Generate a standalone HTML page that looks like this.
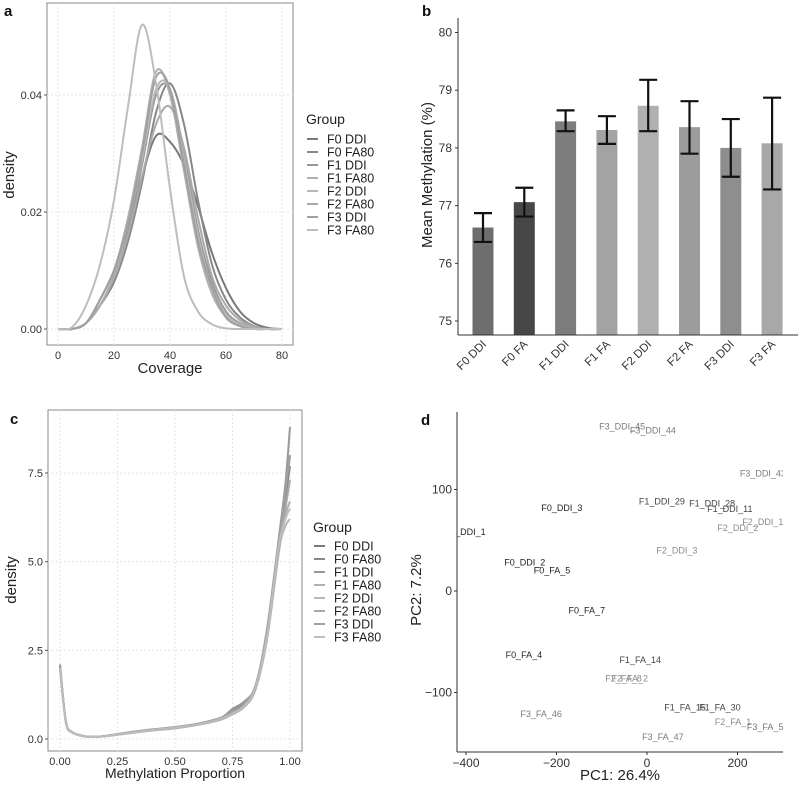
<!DOCTYPE html>
<html><head><meta charset="utf-8"><style>
body{margin:0;background:#fff}
svg{display:block;font-family:"Liberation Sans",sans-serif}
</style></head><body>
<svg id="s" width="800" height="786" viewBox="0 0 800 786"></svg>
<script>
// ---- Panel a data ----
const covX=[0,5,10,15,20,25,30,35,40,45,50,55,60,65,70,75,80];
const groupNames=["F0 DDI","F0 FA80","F1 DDI","F1 FA80","F2 DDI","F2 FA80","F3 DDI","F3 FA80"];
const covF0DDI=[0,0,0.001,0.005,0.010,0.017,0.026,0.033,0.032,0.028,0.021,0.013,0.007,0.003,0.001,0.0002,0];
const covF0FA=[0,0,0.001,0.004,0.008,0.015,0.025,0.037,0.042,0.035,0.022,0.011,0.005,0.002,0.0005,0,0];
const covF1DDI=[0,0,0.001,0.004,0.009,0.017,0.028,0.040,0.041,0.030,0.017,0.008,0.003,0.001,0.0002,0,0];
const covF1FA=[0,0,0.001,0.005,0.010,0.019,0.031,0.044,0.040,0.027,0.014,0.006,0.002,0.0005,0,0,0];
const covF2DDI=[0,0,0.001,0.004,0.009,0.018,0.029,0.041,0.041,0.029,0.016,0.007,0.0025,0.0008,0.0002,0,0];
const covF2FA=[0,0,0.001,0.004,0.009,0.016,0.026,0.035,0.038,0.031,0.019,0.009,0.004,0.0015,0.0004,0,0];
const covF3DDI=[0,0,0.001,0.005,0.010,0.018,0.030,0.043,0.041,0.028,0.015,0.007,0.002,0.0005,0,0,0];
const covF3FA=[0,0.0003,0.004,0.011,0.022,0.038,0.052,0.042,0.024,0.009,0.003,0.0008,0.0001,0,0,0,0];
const covTicksX=[0,20,40,60,80];
const covTicksY=[0,0.02,0.04];
// ---- Panel b data ----
const barCats=["F0 DDI","F0 FA","F1 DDI","F1 FA","F2 DDI","F2 FA","F3 DDI","F3 FA"];
const barMeans=[76.62,77.06,78.46,78.31,78.73,78.36,78.0,78.08];
const barLo=[76.37,76.81,78.29,78.07,78.29,77.9,77.5,77.28];
const barHi=[76.87,77.31,78.65,78.55,79.18,78.81,78.5,78.87];
const barTicks=[75,76,77,78,79,80];
// ---- Panel c data ----
const propX=[0,0.025,0.05,0.1,0.15,0.2,0.3,0.4,0.5,0.6,0.7,0.75,0.8,0.85,0.9,0.95,0.98,1.0];
const propF0DDI=[2.1,0.5,0.2,0.08,0.06,0.08,0.18,0.26,0.33,0.42,0.58,0.8,1.0,1.5,3.0,5.5,7.0,8.0];
const propF0FA=[2.0,0.5,0.2,0.08,0.06,0.08,0.17,0.25,0.32,0.41,0.57,0.75,0.95,1.45,2.9,5.4,6.8,7.7];
const propF1DDI=[2.05,0.5,0.2,0.08,0.06,0.09,0.19,0.27,0.34,0.43,0.6,0.85,1.05,1.5,3.1,5.6,7.2,8.8];
const propF1FA=[2.0,0.48,0.19,0.08,0.06,0.08,0.17,0.24,0.31,0.4,0.55,0.7,0.9,1.4,2.8,5.2,6.3,6.7];
const propF2DDI=[2.0,0.5,0.2,0.08,0.06,0.08,0.18,0.26,0.33,0.42,0.58,0.75,0.95,1.5,3.0,5.3,6.0,6.2];
const propF2FA=[2.0,0.5,0.2,0.08,0.06,0.08,0.16,0.24,0.3,0.4,0.55,0.7,0.9,1.4,2.9,5.3,6.5,7.3];
const propF3DDI=[2.1,0.52,0.21,0.09,0.06,0.09,0.18,0.26,0.33,0.43,0.6,0.78,0.98,1.5,3.0,5.5,7.0,8.0];
const propF3FA=[2.0,0.49,0.2,0.08,0.06,0.08,0.17,0.25,0.32,0.41,0.57,0.72,0.92,1.45,2.9,5.4,6.2,6.5];
const propTicksX=[0,0.25,0.5,0.75,1.0];
const propTicksY=[0,2.5,5.0,7.5];
// ---- Panel d data ----
const pcaLabels=["F3_DDI_45","F3_DDI_44","F3_DDI_43","F1_DDI_29","F1_DDI_28","F1_DDI_11","F2_DDI_1","F2_DDI_2","F2_DDI_3","F0_DDI_3","F0_DDI_1","F0_DDI_2","F0_FA_5","F0_FA_7","F0_FA_4","F1_FA_14","F2_FA_8","F2_FA_2","F1_FA_15","F1_FA_30","F2_FA_1","F3_FA_5","F3_FA_46","F3_FA_47"];
const pcaX=[-55,13,256,33,144,183,256,201,66,-188,-402,-270,-210,-133,-272,-15,-52,-38,84,161,190,261,-234,35];
const pcaY=[162,158,116,88,86,81,68,62,40,82,58,28,20,-19,-63,-68,-86,-86,-115,-115,-129,-134,-121,-144];
const pcaTicksX=[-400,-200,0,200];
const pcaTicksY=[-100,0,100];

const NS="http://www.w3.org/2000/svg";
const svg=document.getElementById('s');
function mk(tag,attrs,parent,text){const e=document.createElementNS(NS,tag);for(const k in attrs)e.setAttribute(k,attrs[k]);if(text!==undefined)e.textContent=text;(parent||svg).appendChild(e);return e;}
function smooth(pts){let d="M"+pts[0][0]+","+pts[0][1];for(let i=0;i<pts.length-1;i++){const p0=pts[Math.max(0,i-1)],p1=pts[i],p2=pts[i+1],p3=pts[Math.min(pts.length-1,i+2)];const c1x=p1[0]+(p2[0]-p0[0])/6,c1y=p1[1]+(p2[1]-p0[1])/6,c2x=p2[0]-(p3[0]-p1[0])/6,c2y=p2[1]-(p3[1]-p1[1])/6;d+=` C${c1x},${c1y} ${c2x},${c2y} ${p2[0]},${p2[1]}`;}return d;}
const lineCols=["#7a7a7a","#888","#999","#b0b0b0","#b8b8b8","#aaa","#a0a0a0","#bdbdbd"];

function panelLabel(t,x,y){const e=mk('text',{x:x,y:y,'font-size':15,'font-weight':'bold',fill:'#111'},svg,t);}

// ===== Panel a =====
(function(){
const g=mk('g',{});
const L=47,R=293,T=3,B=345;
const xs=v=>58+(v/80)*224, ys=v=>329-(v/0.04)*234;
mk('rect',{x:L,y:T,width:R-L,height:B-T,fill:'#fff',stroke:'#888','stroke-width':1},g);
covTicksX.forEach(v=>{mk('line',{x1:xs(v),x2:xs(v),y1:T,y2:B,stroke:'#e4e4e4','stroke-dasharray':'2,2'},g);const t=mk('text',{x:xs(v),y:B+14,'font-size':11,'text-anchor':'middle',fill:'#333'},g,String(v));});
covTicksY.forEach(v=>{mk('line',{x1:L,x2:R,y1:ys(v),y2:ys(v),stroke:'#e4e4e4','stroke-dasharray':'2,2'},g);mk('line',{x1:L-3,x2:L,y1:ys(v),y2:ys(v),stroke:'#555'},g);const t=mk('text',{x:L-5,y:ys(v)+4,'font-size':11,'text-anchor':'end',fill:'#333'},g,v.toFixed(2));});
const series=[covF0DDI,covF0FA,covF1DDI,covF1FA,covF2DDI,covF2FA,covF3DDI,covF3FA];
series.forEach((s,i)=>{const p=mk('path',{d:smooth(s.map((v,j)=>[xs(covX[j]),ys(v)])),fill:'none',stroke:lineCols[i],'stroke-width':2},g);});
const xt=mk('text',{x:170,y:373,'font-size':15,'text-anchor':'middle',fill:'#222'},g,'Coverage');
const yt=mk('text',{x:14,y:175,'font-size':15,'text-anchor':'middle',fill:'#222',transform:'rotate(-90 14 175)'},g,'density');
const lt=mk('text',{x:306,y:124,'font-size':14,fill:'#222'},g,'Group');
groupNames.forEach((n,i)=>{const y=139+i*13;mk('line',{x1:307,x2:318,y1:y,y2:y,stroke:lineCols[i],'stroke-width':2},g);const t=mk('text',{x:327,y:y+4.5,'font-size':12.5,fill:'#222'},g,n);});
})();
panelLabel('a',4,16);

// ===== Panel b =====
(function(){
const g=mk('g',{});
const L=458,R=798,B=335;
const ys=v=>321-(v-75)*57.7;
const xc=i=>483+i*41.3;
const cols=["#6e6e6e","#474747","#7d7d7d","#a3a3a3","#b0b0b0","#9c9c9c","#8e8e8e","#a8a8a8"];
barCats.forEach((c,i)=>{const r=mk('rect',{x:xc(i)-10.5,y:ys(barMeans[i]),width:21,height:B-ys(barMeans[i]),fill:cols[i]},g);
const e=mk('path',{d:`M${xc(i)-9},${ys(barHi[i])}H${xc(i)+9}M${xc(i)},${ys(barHi[i])}V${ys(barLo[i])}M${xc(i)-9},${ys(barLo[i])}H${xc(i)+9}`,stroke:'#111','stroke-width':2.2,fill:'none'},g);
const t=mk('text',{x:xc(i)+4,y:B+10,'font-size':11.5,'text-anchor':'end',fill:'#333',transform:`rotate(-45 ${xc(i)+4} ${B+10})`},g,c);});
mk('line',{x1:L,x2:L,y1:18,y2:B,stroke:'#333'},g);mk('line',{x1:L,x2:R,y1:B,y2:B,stroke:'#333'},g);
barTicks.forEach(v=>{mk('line',{x1:L-3,x2:L,y1:ys(v),y2:ys(v),stroke:'#333'},g);const t=mk('text',{x:L-6,y:ys(v)+4,'font-size':12,'text-anchor':'end',fill:'#333'},g,String(v));});
const yt=mk('text',{x:432,y:175,'font-size':15,'text-anchor':'middle',fill:'#222',transform:'rotate(-90 432 175)'},g,'Mean Methylation (%)');
})();
panelLabel('b',422,16);

// ===== Panel c =====
(function(){
const g=mk('g',{});
const L=48,R=302,T=410,B=751;
const xs=v=>60+v*230, ys=v=>739-(v/7.5)*266;
mk('rect',{x:L,y:T,width:R-L,height:B-T,fill:'#fff',stroke:'#888'},g);
propTicksX.forEach(v=>{mk('line',{x1:xs(v),x2:xs(v),y1:T,y2:B,stroke:'#e4e4e4','stroke-dasharray':'2,2'},g);const t=mk('text',{x:xs(v),y:B+14,'font-size':11,'text-anchor':'middle',fill:'#333'},g,v.toFixed(2));});
propTicksY.forEach(v=>{mk('line',{x1:L,x2:R,y1:ys(v),y2:ys(v),stroke:'#e4e4e4','stroke-dasharray':'2,2'},g);mk('line',{x1:L-3,x2:L,y1:ys(v),y2:ys(v),stroke:'#555'},g);const t=mk('text',{x:L-5,y:ys(v)+4,'font-size':11,'text-anchor':'end',fill:'#333'},g,v.toFixed(1));});
const series=[propF0DDI,propF0FA,propF1DDI,propF1FA,propF2DDI,propF2FA,propF3DDI,propF3FA];
series.forEach((s,i)=>{const p=mk('path',{d:smooth(s.map((v,j)=>[xs(propX[j]),ys(v)])),fill:'none',stroke:lineCols[i],'stroke-width':2},g);});
const xt=mk('text',{x:175,y:778,'font-size':14,'text-anchor':'middle',fill:'#222'},g,'Methylation Proportion');
const yt=mk('text',{x:16,y:580,'font-size':15,'text-anchor':'middle',fill:'#222',transform:'rotate(-90 16 580)'},g,'density');
const lt=mk('text',{x:313,y:532,'font-size':14,fill:'#222'},g,'Group');
groupNames.forEach((n,i)=>{const y=546+i*13;mk('line',{x1:314,x2:325,y1:y,y2:y,stroke:lineCols[i],'stroke-width':2},g);const t=mk('text',{x:334,y:y+4.5,'font-size':12.5,fill:'#222'},g,n);});
})();
panelLabel('c',10,424);

// ===== Panel d =====
(function(){
const g=mk('g',{});
const L=457,R=783,T=412,B=752;
const xs=v=>647+v*0.4525, ys=v=>591-v*1.015;
const cp=mk('clipPath',{id:'cpd'},g);mk('rect',{x:L,y:T,width:R-L,height:B-T},cp);
const lg=mk('g',{'clip-path':'url(#cpd)'},g);
pcaLabels.forEach((n,i)=>{const c=n.startsWith('F0')?'#222':n.startsWith('F1')?'#444':n.startsWith('F2')?'#8a8a8a':'#7a7a7a';const t=mk('text',{x:xs(pcaX[i]),y:ys(pcaY[i])+3,'font-size':9,'text-anchor':'middle',fill:c},lg,n);});
mk('line',{x1:L,x2:L,y1:T,y2:B,stroke:'#333'},g);mk('line',{x1:L,x2:R,y1:B,y2:B,stroke:'#333'},g);
pcaTicksX.forEach(v=>{mk('line',{x1:xs(v),x2:xs(v),y1:B,y2:B+3,stroke:'#333'},g);const t=mk('text',{x:xs(v),y:B+15,'font-size':12,'text-anchor':'middle',fill:'#333'},g,v<0?'\u2212'+(-v):String(v));});
pcaTicksY.forEach(v=>{mk('line',{x1:L-3,x2:L,y1:ys(v),y2:ys(v),stroke:'#333'},g);const t=mk('text',{x:L-5,y:ys(v)+4,'font-size':12,'text-anchor':'end',fill:'#333'},g,v<0?'\u2212'+(-v):String(v));});
const xt=mk('text',{x:620,y:780,'font-size':15,'text-anchor':'middle',fill:'#222'},g,'PC1: 26.4%');
const yt=mk('text',{x:421,y:590,'font-size':15,'text-anchor':'middle',fill:'#222',transform:'rotate(-90 421 590)'},g,'PC2: 7.2%');
})();
panelLabel('d',421,425);
</script>
</body></html>
